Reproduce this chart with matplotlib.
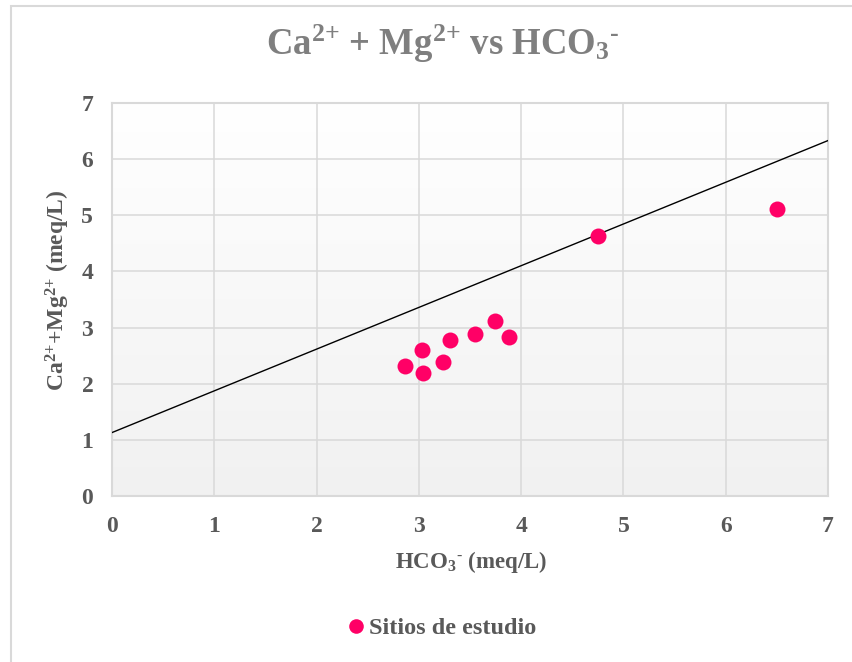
import numpy as np
import matplotlib
matplotlib.use("Agg")
import matplotlib.pyplot as plt
from matplotlib.patches import Rectangle
from matplotlib.lines import Line2D

plt.rcParams["font.family"] = ["Liberation Serif", "DejaVu Serif"]
plt.rcParams["font.weight"] = "bold"
plt.rcParams["mathtext.fontset"] = "custom"
plt.rcParams["mathtext.rm"] = "Liberation Serif:bold"
plt.rcParams["mathtext.it"] = "Liberation Serif:bold"
plt.rcParams["mathtext.bf"] = "Liberation Serif:bold"

# Study sites: bicarbonate vs calcium + magnesium (meq/L)
hco3 = [2.86, 3.03, 3.04, 3.24, 3.30, 3.55, 3.74, 3.88, 4.75, 6.50]
ca_mg = [2.31, 2.60, 2.19, 2.39, 2.77, 2.88, 3.11, 2.83, 4.63, 5.12]

# Reference line y = slope * x + intercept
line_slope = 0.743
line_intercept = 1.13
line_x = [0, 7]

x_ticks = [0, 1, 2, 3, 4, 5, 6, 7]
y_ticks = [0, 1, 2, 3, 4, 5, 6, 7]

title_text = r"Ca$^{\text{2+}}$ + Mg$^{\text{2+}}$ vs HCO$_{\text{3}}{}^{\text{-}}$"
xlabel_text = r"HCO$_{\text{3}}{}^{\text{-}}$ (meq/L)"
ylabel_text = r"Ca$^{\text{2+}}$+Mg$^{\text{2+}}$ (meq/L)"
legend_text = "Sitios de estudio"

W, H = 852, 662
fig = plt.figure(figsize=(W / 100, H / 100), dpi=100)
fig.patch.set_facecolor("white")

# Chart-area border
fig.patches.append(Rectangle((10.5 / W, -0.05), 1.2, (H - 5.5) / H + 0.05,
                             transform=fig.transFigure, fill=False,
                             edgecolor="#d9d9d9", linewidth=1.5))

ax = fig.add_axes([112 / W, (H - 496) / H, 716 / W, 393 / H])

# Light vertical gradient in the plot area: white at the top, grey at the bottom
grad = np.linspace(0, 1, 256).reshape(-1, 1)
cmap = matplotlib.colors.LinearSegmentedColormap.from_list("bg", ["#ffffff", "#f1f1f1"])
ax.imshow(grad, cmap=cmap, aspect="auto", extent=[0, 7, 0, 7],
          origin="upper", zorder=0, interpolation="bilinear")

ax.set_xlim(0, 7)
ax.set_ylim(0, 7)
ax.set_xticks(x_ticks)
ax.set_yticks(y_ticks)
ax.grid(True, color="#d9d9d9", linewidth=1.1, zorder=1)
ax.set_axisbelow(True)
for s in ax.spines.values():
    s.set_color("#d9d9d9")
    s.set_linewidth(1.5)
ax.tick_params(length=0, labelsize=17, labelcolor="#595959")
ax.tick_params(axis="y", pad=13.5)
ax.tick_params(axis="x", pad=14.5)
for lbl in ax.get_xticklabels() + ax.get_yticklabels():
    lbl.set_fontweight("bold")

lx = np.array(line_x, dtype=float)
ax.plot(lx, line_slope * lx + line_intercept, color="black", linewidth=1.0, zorder=3)
ax.plot(hco3, ca_mg, linestyle="none", marker="o", markersize=11.5,
        color="#ff0066", markeredgewidth=0, zorder=4)

fig.text(443 / W, (H - 55) / H, title_text, ha="center", va="baseline",
         fontsize=26.5, color="#7f7f7f", fontweight="bold")
fig.text(471 / W, (H - 568) / H, xlabel_text, ha="center", va="baseline",
         fontsize=16.5, color="#595959", fontweight="bold")
fig.text(58 / W, (H - 290) / H, ylabel_text, ha="center", va="center",
         rotation=90, fontsize=17, color="#595959", fontweight="bold")

handle = Line2D([], [], linestyle="none", marker="o", markersize=10.5,
                color="#ff0066", markeredgewidth=0)
leg = fig.legend([handle], [legend_text], loc="center",
                 bbox_to_anchor=(440 / W, (H - 628) / H), frameon=False,
                 handletextpad=0.0, handlelength=1.0, borderpad=0,
                 prop={"family": "Liberation Serif", "weight": "bold", "size": 17.5})
for t in leg.get_texts():
    t.set_color("#595959")

fig.savefig("out.png", dpi=100)
